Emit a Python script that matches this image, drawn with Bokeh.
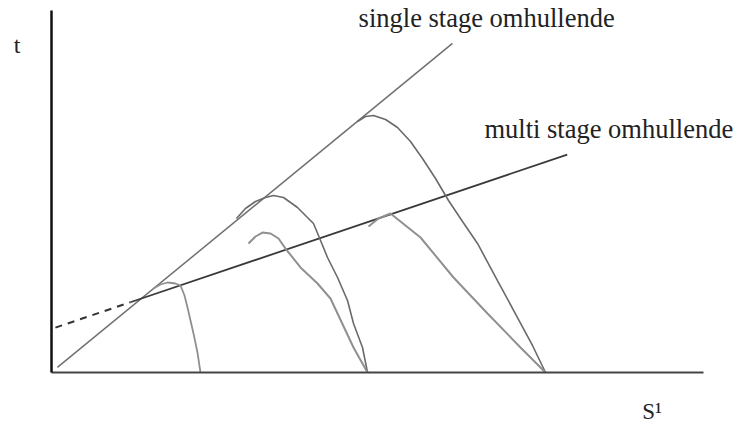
from bokeh.plotting import figure
from bokeh.models import Label, Range1d, FixedTicker
from bokeh.embed import file_html
from bokeh.resources import INLINE

# ---- data (arbitrary units: S1 on x, t on y) ----
single_x = [0.9, 61.5]
single_y = [1.4, 90.9]

multi_dash_x = [0.6, 12.1]
multi_dash_y = [12.4, 19.4]
multi_x = [12.1, 79.1]
multi_y = [19.4, 60.2]

c1_x = [15.64, 16.72, 17.79, 19.02, 19.79, 20.40, 20.86, 21.78, 22.39, 22.85]
c1_y = [23.20, 24.31, 24.86, 24.59, 24.03, 21.27, 17.96, 10.77, 5.52, 0.0]

c2_x = [28.37, 29.75, 31.29, 32.82, 34.05, 35.58, 37.73, 40.18, 40.95, 42.33, 43.87, 45.40, 46.32, 47.70, 48.47]
c2_y = [42.54, 45.30, 47.24, 48.34, 48.90, 48.34, 45.58, 41.16, 37.85, 31.77, 26.24, 19.89, 13.54, 6.91, 0.0]

c3_x = [30.21, 31.29, 32.36, 33.59, 34.82, 35.89, 38.19, 40.80, 42.79, 43.87, 46.32, 48.47]
c3_y = [35.64, 37.57, 38.67, 38.40, 37.02, 34.25, 29.01, 24.59, 20.44, 16.30, 6.91, 0.0]

c4_x = [46.93, 48.16, 49.39, 51.23, 53.07, 55.06, 56.90, 58.90, 60.89, 63.04, 65.34, 68.40, 71.47, 73.77, 75.77]
c4_y = [69.34, 70.72, 71.00, 69.89, 67.68, 63.81, 59.12, 53.59, 47.51, 41.71, 35.64, 25.41, 15.19, 7.46, 0.0]

c5_x = [48.62, 50.15, 51.99, 56.60, 61.66, 66.87, 71.93, 75.77]
c5_y = [40.33, 42.54, 43.92, 37.29, 26.24, 16.30, 6.91, 0.0]

axis_bounds = (0, 100)

FONT = "Liberation Serif"

W, H = 741, 427
p = figure(width=W, height=H, output_backend="svg", toolbar_location=None,
           x_range=Range1d(-51 / 6.52, (W - 51) / 6.52),
           y_range=Range1d((372 - H) / 3.62, 372 / 3.62),
           min_border=0, min_border_left=0, min_border_right=0,
           min_border_top=0, min_border_bottom=0)
p.outline_line_color = None
p.grid.visible = False
p.background_fill_color = "white"
p.border_fill_color = "white"

for ax in (p.xaxis[0], p.yaxis[0]):
    ax.ticker = FixedTicker(ticks=[])
    ax.major_tick_line_color = None
    ax.minor_tick_line_color = None
    ax.major_tick_out = 0
    ax.major_tick_in = 0
    ax.minor_tick_out = 0
    ax.minor_tick_in = 0
    ax.major_label_standoff = 0
    ax.fixed_location = 0
    ax.bounds = axis_bounds
p.yaxis[0].axis_line_color = "#111111"
p.yaxis[0].axis_line_width = 2.5
p.xaxis[0].axis_line_color = "#444444"
p.xaxis[0].axis_line_width = 2

# envelopes
p.line(single_x, single_y, line_color="#707070", line_width=1.5)
p.line(multi_dash_x, multi_dash_y, line_color="#333333", line_width=2, line_dash="7 6")
p.line(multi_x, multi_y, line_color="#3a3a3a", line_width=1.8)

# curves
p.line(c1_x, c1_y, line_color="#909090", line_width=1.8)
p.line(c2_x, c2_y, line_color="#6a6a6a", line_width=1.6)
p.line(c3_x, c3_y, line_color="#909090", line_width=2.0)
p.line(c4_x, c4_y, line_color="#6a6a6a", line_width=1.6)
p.line(c5_x, c5_y, line_color="#909090", line_width=2.0)

# texts
def lab(x, y, t, size):
    p.add_layout(Label(x=x, y=y, text=t, text_font=FONT, text_font_size=size,
                       text_color="#222222", text_baseline="alphabetic", text_align="left"))

lab(47.1, 97.8, "single stage omhullende", "26.5px")
lab(66.4, 67.3, "multi stage omhullende", "26.5px")
lab(-5.8, 90.6, "t", "24px")
lab(90.6, -10.9, "S\u00b9", "23px")

open("out.html", "w").write(file_html(p, INLINE))
